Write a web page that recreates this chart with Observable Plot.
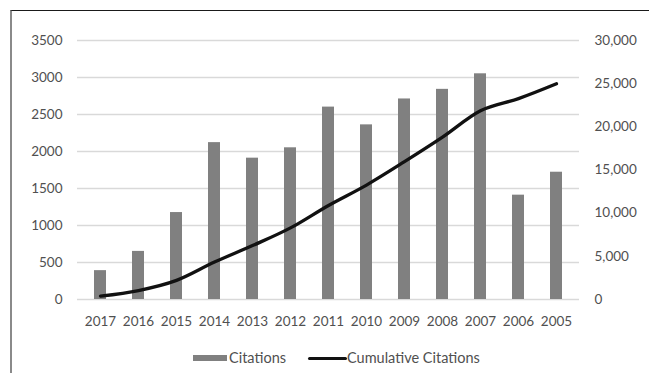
<!DOCTYPE html>
<html>
<head>
<meta charset="utf-8">
<script src="https://cdn.jsdelivr.net/npm/d3@7"></script>
<script src="https://cdn.jsdelivr.net/npm/@observablehq/plot@0.6"></script>
<style>
  html, body { margin: 0; padding: 0; background: #fff; }
  #chart { position: relative; width: 649px; height: 373px; overflow: hidden; font-family: Lato, "Open Sans", sans-serif; }
  #frame { position: absolute; left: 10px; top: 10px; width: 660px; height: 400px; border-top: 1.5px solid #1a1a1a; border-left: 2px solid #8a8a8a; box-sizing: border-box; }
  .layer { position: absolute; left: 0; top: 0; }
  #legend { position: absolute; top: 351px; left: 0; width: 649px; height: 18px; font-size: 14.5px; color: #505050; }
  .sw-bar { position: absolute; left: 193px; top: 4px; width: 34px; height: 6px; background: #808080; }
  .sw-line { position: absolute; left: 308px; top: 6px; width: 39px; height: 3px; background: #111; border-radius: 2px; }
  .lbl { position: absolute; top: -2px; white-space: nowrap; }
</style>
</head>
<body>
<div id="chart">
  <div id="frame"></div>
  <div id="legend">
    <div class="sw-bar"></div><div class="lbl" style="left:229px">Citations</div>
    <div class="sw-line"></div><div class="lbl" style="left:347px">Cumulative Citations</div>
  </div>
</div>
<script>
const years = ["2017","2016","2015","2014","2013","2012","2011","2010","2009","2008","2007","2006","2005"];
const citations = [390, 650, 1175, 2120, 1910, 2050, 2600, 2360, 2710, 2840, 3050, 1410, 1720];
const cumulative = [390, 1040, 2215, 4335, 6245, 8295, 10895, 13255, 15965, 18805, 21855, 23265, 24985];
const leftTicks = [0, 500, 1000, 1500, 2000, 2500, 3000, 3500];
const rightTicks = [0, 5000, 10000, 15000, 20000, 25000, 30000];

const bars = years.map((y, i) => ({year: y, value: citations[i]}));
const line = years.map((y, i) => ({year: y, value: cumulative[i]}));

const W = 649, H = 340;
const common = {
  width: W, height: H,
  marginLeft: 77, marginRight: 70, marginTop: 40, marginBottom: 41,
  style: {fontFamily: "Lato, 'Open Sans', sans-serif", fontSize: "13.5px", color: "#505050", background: "transparent", overflow: "visible"}
};

const p1 = Plot.plot({
  ...common,
  x: {type: "band", domain: years, paddingInner: 0.69, paddingOuter: 0.345, label: null},
  y: {domain: [0, 3500], label: null},
  marks: [
    Plot.gridY(leftTicks, {stroke: "#d9d9d9", strokeOpacity: 1, strokeWidth: 1.5}),
    Plot.axisY({ticks: leftTicks, tickSize: 0, tickPadding: 15, label: null, tickFormat: d => String(d)}),
    Plot.axisX({tickSize: 0, tickPadding: 17, label: null}),
    Plot.barY(bars, {x: "year", y: "value", fill: "#808080"})
  ]
});
p1.classList.add("layer");

const p2 = Plot.plot({
  ...common,
  x: {type: "point", domain: years, padding: 0.5, axis: null},
  y: {domain: [0, 30000], label: null},
  marks: [
    Plot.axisY({anchor: "right", ticks: rightTicks, tickSize: 0, tickPadding: 15, label: null, tickFormat: d3.format(",")}),
    Plot.line(line, {x: "year", y: "value", stroke: "#111", strokeWidth: 3.3, curve: "monotone-x"})
  ]
});
p2.classList.add("layer");

const chart = document.getElementById("chart");
chart.appendChild(p1);
chart.appendChild(p2);
</script>
</body>
</html>
